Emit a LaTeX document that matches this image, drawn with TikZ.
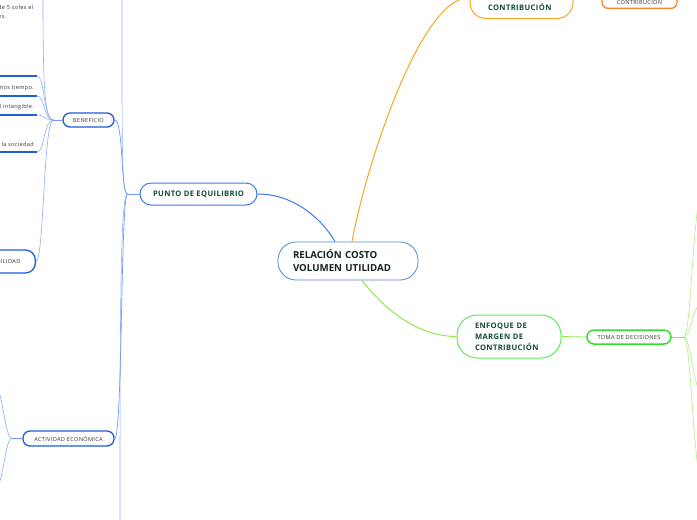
\documentclass[tikz,border=0pt]{standalone}
\usepackage{fontspec}
\setmainfont{Open Sans}
\definecolor{rootblue}{HTML}{4A8ECF}\definecolor{rootink}{HTML}{14241E}
\definecolor{dkgreen}{HTML}{0F4A3A}\definecolor{txtgray}{HTML}{333333}
\definecolor{boxblue}{HTML}{1E5FD8}\definecolor{punblue}{HTML}{3A78F0}
\definecolor{lblue}{HTML}{8AAEFF}\definecolor{mblue}{HTML}{7099FF}
\definecolor{orng}{HTML}{F5A623}\definecolor{orng2}{HTML}{F08A24}
\definecolor{grn}{HTML}{8EE84A}\definecolor{enfgreen}{HTML}{58EE58}
\definecolor{tomagreen}{HTML}{2FE02F}\definecolor{lgreen}{HTML}{B8F08C}

\begin{document}
\begin{tikzpicture}[x=1pt,y=-1pt,
  big/.style={font=\fontsize{7.6}{11}\selectfont\bfseries\addfontfeature{LetterSpace=5},text=dkgreen},
  small/.style={font=\fontsize{5.6}{9}\selectfont\addfontfeature{LetterSpace=6},text=txtgray},
  root/.style={draw=rootblue,line width=.8pt,rounded corners=18pt,fill=white,minimum height=38pt,
    text width=110pt,inner xsep=15pt,align=left,font=\fontsize{9.7}{13}\selectfont\bfseries,text=rootink},
  bbox/.style={small,draw=boxblue,line width=1.3pt,rounded corners=7pt,fill=white,minimum height=14pt,inner xsep=0pt},
  uline/.style={draw=boxblue,line width=1.3pt},
  ultxt/.style={small,inner xsep=3pt,inner ysep=5pt,anchor=south east},
  lb/.style={draw=lblue,line width=.6pt},lg/.style={draw=lgreen,line width=.7pt}]
\useasboundingbox (0,0) rectangle (697,520);\clip (0,0) rectangle (697,520);

\node[root] (rcvu) at (348,261) {RELACIÓN COSTO\\VOLUMEN UTILIDAD};
\node[big,draw=punblue,line width=1pt,rounded corners=11pt,fill=white,minimum width=117pt,minimum height=22pt] (pun) at (198.5,194) {PUNTO DE EQUILIBRIO};
\node[big,draw=enfgreen,line width=1pt,rounded corners=20pt,fill=white,minimum height=43pt,text width=68pt,inner xsep=18pt,align=left] (enf) at (509,336.5) {ENFOQUE DE\\MARGEN DE\\CONTRIBUCIÓN};
\node[big,draw=orng,line width=1pt,rounded corners=16pt,fill=white,text width=67pt,inner xsep=18pt,align=left,inner ysep=8pt,anchor=south] (con) at (521.5,19) {\rule{0pt}{26pt}CONTRIBUCIÓN};
\node[small,draw=orng2,line width=1.3pt,rounded corners=6pt,fill=white,minimum width=75pt,inner ysep=3.5pt,anchor=south] (con2) at (639.5,9) {\rule{0pt}{15pt}CONTRIBUCIÓN};
\node[small,draw=tomagreen,line width=1.5pt,rounded corners=7pt,fill=white,minimum width=84pt,minimum height=14pt,inner xsep=0pt] (toma) at (629,337) {TOMA DE DECISIONES};
\node[bbox,minimum width=51pt] (ben) at (88.5,120) {BENEFICIO};
\node[bbox,minimum width=91pt,minimum height=15pt] (act) at (68.5,438.5) {ACTIVIDAD ECONÓMICA};
\node[bbox,minimum height=23pt,rounded corners=10pt,inner xsep=15pt,anchor=east] (rent) at (36,261.5) {BILIDAD};

\node[small,align=left,anchor=north west,inner sep=0pt] (t0) at (-2,5.5) {de 5 soles el\\es.};
\coordinate (u0) at (37,76);\draw[uline] (u0) -- ++(-45,0);
\node[ultxt] (t1) at (37,96) {mos tiempo.};\draw[uline] (t1.south east) -- ++(-45,0);
\node[ultxt] (t2) at (37,115) {l intangible.};\draw[uline] (t2.south east) -- ++(-45,0);
\node[ultxt] (t3) at (37,152) {la sociedad};\draw[uline] (t3.south east) -- ++(-45,0);

\draw[punblue,line width=1pt] ([xshift=-13pt]rcvu.north) .. controls +(-10,-18) and +(40,0) .. (pun.east);
\draw[orng,line width=1pt] ([xshift=4pt]rcvu.north) .. controls +(13,-72) and +(-50,0) .. (con.west);
\draw[grn,line width=1pt] ([xshift=14pt]rcvu.south) .. controls +(23,30) and +(-38,0) .. (enf.west);
\draw[grn,line width=.8pt] (enf.east) -- (toma.west);

\draw[mblue,line width=.9pt] (pun.west) -- ++(-12,0) coordinate (ph);
\coordinate (ptop) at (122,-5);\coordinate (pbot) at (120,525);
\draw[lb] (ph) .. controls +(-6,0) and +(0,150) .. (ptop);
\draw[lb] (ph) .. controls +(-7,0) and +(0,-220) .. (pbot);
\draw[mblue,line width=.7pt] (ph) .. controls +(-7,0) and +(9,0) .. (ben.east);
\draw[mblue,line width=.7pt] (ph) .. controls +(-7,0) and +(8,0) .. (act.east);

\draw[mblue,line width=.8pt] (ben.west) -- ++(-9,0) coordinate (bh);
\coordinate (btop) at (43,-5);
\draw[lb] (bh) .. controls +(-9,0) and +(0,90) .. (btop);
\draw[lb] (bh) .. controls +(-10,0) and +(8,0) .. (u0);
\foreach \t in {t1,t2,t3}{\draw[lb] (bh) .. controls +(-10,0) and +(8,0) .. (\t.south east);}
\draw[lb] (bh) .. controls +(-10,0) and +(8,0) .. (rent.east);

\draw[mblue,line width=.8pt] (act.west) -- ++(-11,0) coordinate (ah);
\coordinate (a1) at (-6,384);\coordinate (a2) at (-6,492);
\draw[lb] (ah) .. controls +(-6,0) and +(8,0) .. (a1);
\draw[lb] (ah) .. controls +(-6,0) and +(8,0) .. (a2);

\draw[grn,line width=.8pt] (toma.east) -- ++(12,0) coordinate (gh);
\foreach \y [count=\i] in {183,300,397,490}{\coordinate (g\i) at (705,\y);\draw[lg] (gh) .. controls +(8,0) and +(-12,0) .. (g\i);}
\end{tikzpicture}
\end{document}
